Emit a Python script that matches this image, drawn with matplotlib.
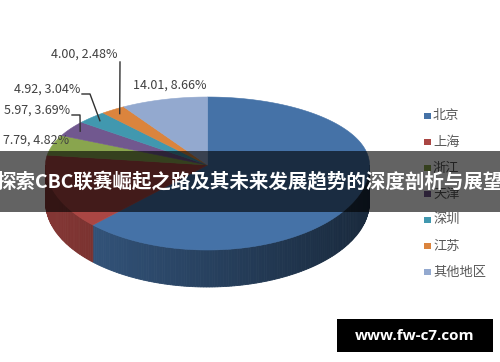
import numpy as np
import matplotlib.pyplot as plt
from matplotlib.patches import Polygon, Rectangle
import matplotlib.colors as mcolors

plt.rcParams['font.family'] = ['Noto Sans CJK SC', 'DejaVu Sans']

# данные диаграммы
regions = ['北京', '上海', '浙江', '天津', '深圳', '江苏', '其他地区']
values = [101.15, 23.94, 7.79, 5.97, 4.92, 4.00, 14.01]
shares = [62.52, 14.80, 4.82, 3.69, 3.04, 2.48, 8.66]
colors = ['#4572A7', '#AA4643', '#89A54E', '#71588F', '#4198AF', '#DB843D', '#93A9CF']
title = '探索CBC联赛崛起之路及其未来发展趋势的深度剖析与展望'
watermark = 'www.fw-c7.com'

# геометрия "3D" пирога в пикселях
cx, cy = 207.5, 165
rx, ry_back, ry_front = 162, 68, 85
depth = 37


def rim(t, k=1.0):
    # t - угол в градусах по часовой от 12 часов
    t = np.radians(np.asarray(t, dtype=float))
    c = np.cos(t)
    x = cx + k * rx * np.sin(t)
    y = cy - k * c * np.where(c > 0, ry_back, ry_front)
    return x, y


fig = plt.figure(figsize=(5, 3.62), dpi=100)
ax = fig.add_axes([0, 0, 1, 1])
ax.set_xlim(0, 500)
ax.set_ylim(362, 0)
ax.axis('off')

fr = np.array(shares) / sum(shares) * 360
edges = np.concatenate([[0], np.cumsum(fr)])

# боковая стенка (только передняя половина)
for i in range(len(values)):
    a0, a1 = max(edges[i], 90), min(edges[i + 1], 270)
    if a1 <= a0:
        continue
    ts = np.linspace(a0, a1, int((a1 - a0) / 1.0) + 2)
    base = np.array(mcolors.to_rgb(colors[i]))
    for t0, t1 in zip(ts[:-1], ts[1:]):
        tm = (t0 + t1) / 2
        f = 0.78 - 0.42 * (np.sin(np.radians(tm)) + 1) / 2
        col = base * f
        x0, y0 = rim(t0)
        x1, y1 = rim(t1)
        poly = Polygon([(x0, y0), (x1, y1), (x1, y1 + depth), (x0, y0 + depth)],
                       closed=True, facecolor=col, edgecolor=col, lw=0.6, zorder=1)
        ax.add_patch(poly)

# верхняя грань
for i in range(len(values)):
    ts = np.linspace(edges[i], edges[i + 1], max(int(fr[i]), 2) + 1)
    xs, ys = rim(ts)
    pts = [(cx, cy)] + list(zip(xs, ys))
    ax.add_patch(Polygon(pts, closed=True, facecolor=colors[i], edgecolor=colors[i],
                         lw=0.4, zorder=2))

# подписи данных
label_pos = {2: (36, 140), 3: (37, 110), 4: (47, 89), 5: (84, 54), 6: (170, 85)}
for i, (lx, ly) in label_pos.items():
    ax.text(lx, ly, f'{values[i]:.2f}, {shares[i]:.2f}%', ha='center', va='center',
            fontsize=9, color='#404040', zorder=3)

# выноски
for i, (sx, sy), (kx, ky) in [(3, (72, 115), (80, 115)), (4, (82, 94), (90, 94)),
                              (5, (120, 62), (120, 62))]:
    mid = (edges[i] + edges[i + 1]) / 2
    ex, ey = rim(mid, 0.93)
    ax.plot([sx, kx, ex], [sy, ky, ey], color='#303030', lw=1, zorder=3)

# легенда
for i, name in enumerate(regions):
    y = 116 + i * 26
    ax.add_patch(Rectangle((424, y - 3.5), 6.5, 6.5, facecolor=colors[i],
                           edgecolor='none', zorder=3))
    ax.text(433, y, name, ha='left', va='center', fontsize=9.5, color='#595959', zorder=3)

# полупрозрачная полоса с заголовком
ax.add_patch(Rectangle((0, 151), 500, 61, facecolor='black', alpha=0.61,
                       edgecolor='none', zorder=5))
ax.text(250, 182, title, ha='center', va='center', fontsize=14, fontweight='bold',
        color='white', zorder=6)

# водяной знак
ax.add_patch(Rectangle((337, 319), 156, 33, facecolor='black', edgecolor='none', zorder=5))
ax.text(415, 335.5, watermark, ha='center', va='center', fontsize=11, fontweight='bold',
        color='white', family=['Open Sans', 'DejaVu Sans'], zorder=6)

plt.savefig('out.png', dpi=100)
